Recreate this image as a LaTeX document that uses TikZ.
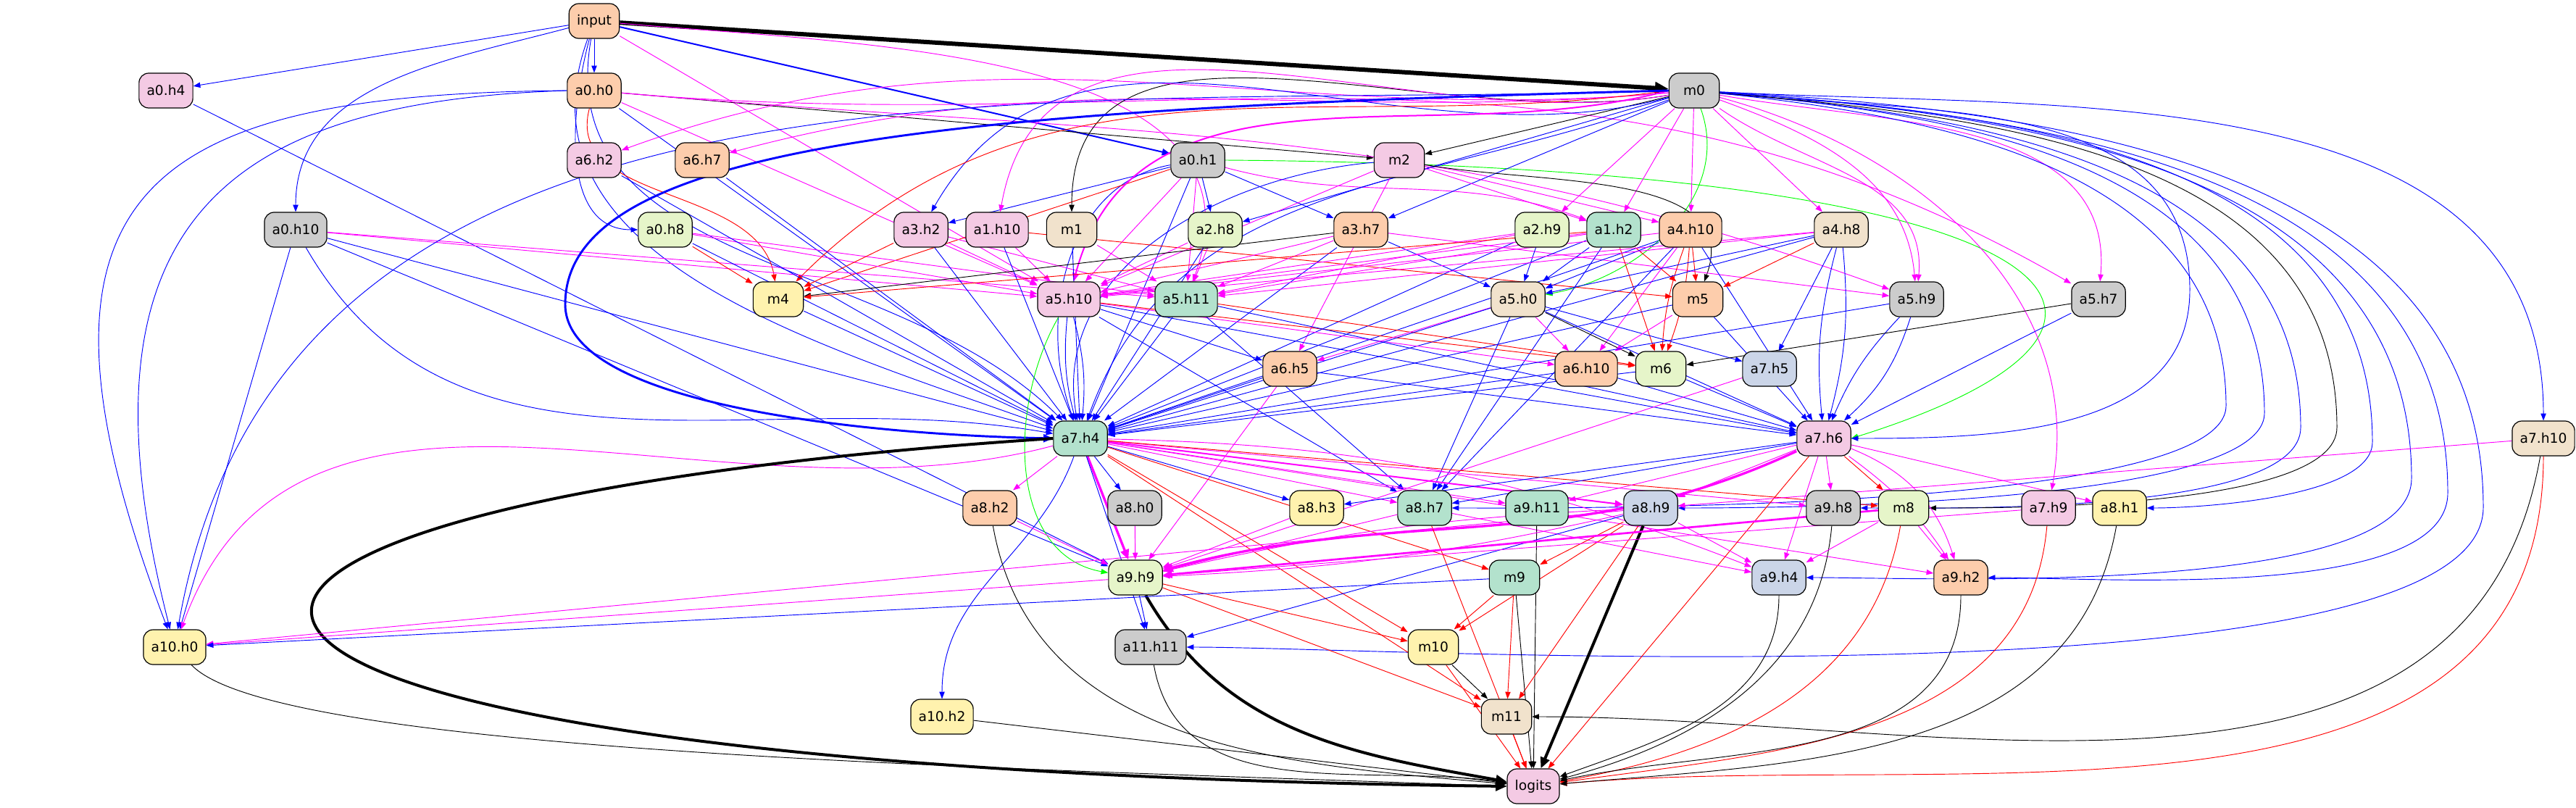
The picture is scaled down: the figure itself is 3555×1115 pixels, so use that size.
\documentclass[tikz,border=0pt]{standalone}
\usepackage{fontspec}
\setmainfont{DejaVu Sans}
\usepackage{tikz}
\usetikzlibrary{arrows.meta}
\usetikzlibrary{backgrounds}
\definecolor{pPeach}{HTML}{FDCDAC}
\definecolor{pPink}{HTML}{F4CAE4}
\definecolor{pGray}{HTML}{CCCCCC}
\definecolor{pMint}{HTML}{B3E2CD}
\definecolor{pLime}{HTML}{E6F5C9}
\definecolor{pLemon}{HTML}{FFF2AE}
\definecolor{pSand}{HTML}{F1E2CC}
\definecolor{pSteel}{HTML}{CBD5E8}
\definecolor{eBlue}{HTML}{0000FF}
\definecolor{eMag}{HTML}{FF00FF}
\definecolor{eRed}{HTML}{FF0000}
\definecolor{eGreen}{HTML}{00FF00}

\begin{document}
\begin{tikzpicture}[x=0.1875pt,y=-0.1875pt,
  hbox/.style={draw=black,line width=0.225pt,rounded corners=2.5pt,minimum height=9pt,minimum width=13pt,inner xsep=2pt,inner ysep=0pt,font=\fontsize{3.5}{4}\selectfont},
  peachn/.style={hbox,fill=pPeach}, pinkn/.style={hbox,fill=pPink},
  grayn/.style={hbox,fill=pGray}, mintn/.style={hbox,fill=pMint},
  limen/.style={hbox,fill=pLime}, lemonn/.style={hbox,fill=pLemon},
  sandn/.style={hbox,fill=pSand}, steeln/.style={hbox,fill=pSteel},
  lnk/.style={line width=0.175pt,-{Triangle[length=1.5pt 1.8,width=1.05pt 1.8]}},
  eb/.style={lnk,draw=eBlue}, em/.style={lnk,draw=eMag}, er/.style={lnk,draw=eRed},
  ek/.style={lnk,draw=black}, eg/.style={lnk,draw=eGreen}]
\useasboundingbox (0,0) rectangle (3555,1115);

\node[peachn] (input) at (820,29) {input};
\node[pinkn] (a0h4) at (229,125) {a0.h4};
\node[peachn] (a0h0) at (820,125) {a0.h0};
\node[grayn] (m0) at (2338,125) {m0};
\node[pinkn] (a6h2) at (820,221) {a6.h2};
\node[peachn] (a6h7) at (969,221) {a6.h7};
\node[grayn] (a0h1) at (1653,221) {a0.h1};
\node[pinkn] (m2) at (1931,221) {m2};
\node[grayn] (a0h10) at (408,317) {a0.h10};
\node[limen] (a0h8) at (918,317) {a0.h8};
\node[pinkn] (a3h2) at (1271,317) {a3.h2};
\node[pinkn] (a1h10) at (1376,317) {a1.h10};
\node[sandn] (m1) at (1479,317) {m1};
\node[limen] (a2h8) at (1677,317) {a2.h8};
\node[peachn] (a3h7) at (1878,317) {a3.h7};
\node[limen] (a2h9) at (2128,317) {a2.h9};
\node[mintn] (a1h2) at (2227,317) {a1.h2};
\node[peachn] (a4h10) at (2333,317) {a4.h10};
\node[sandn] (a4h8) at (2541,317) {a4.h8};
\node[lemonn] (m4) at (1074,413) {m4};
\node[pinkn] (a5h10) at (1475,413) {a5.h10};
\node[mintn] (a5h11) at (1637,413) {a5.h11};
\node[sandn] (a5h0) at (2095,413) {a5.h0};
\node[peachn] (m5) at (2343,413) {m5};
\node[grayn] (a5h9) at (2645,413) {a5.h9};
\node[grayn] (a5h7) at (2896,413) {a5.h7};
\node[peachn] (a6h5) at (1780,509) {a6.h5};
\node[peachn] (a6h10) at (2189,509) {a6.h10};
\node[limen] (m6) at (2292,509) {m6};
\node[steeln] (a7h5) at (2442,509) {a7.h5};
\node[mintn] (a7h4) at (1491,605) {a7.h4};
\node[pinkn] (a7h6) at (2517,605) {a7.h6};
\node[sandn] (a7h10) at (3510,605) {a7.h10};
\node[peachn] (a8h2) at (1366,701) {a8.h2};
\node[grayn] (a8h0) at (1566,701) {a8.h0};
\node[lemonn] (a8h3) at (1817,701) {a8.h3};
\node[mintn] (a8h7) at (1966,701) {a8.h7};
\node[mintn] (a9h11) at (2121,701) {a9.h11};
\node[steeln] (a8h9) at (2278,701) {a8.h9};
\node[grayn] (a9h8) at (2530,701) {a9.h8};
\node[limen] (m8) at (2627,701) {m8};
\node[pinkn] (a7h9) at (2827,701) {a7.h9};
\node[lemonn] (a8h1) at (2925,701) {a8.h1};
\node[limen] (a9h9) at (1567,797) {a9.h9};
\node[mintn] (m9) at (2090,797) {m9};
\node[steeln] (a9h4) at (2455,797) {a9.h4};
\node[peachn] (a9h2) at (2706,797) {a9.h2};
\node[lemonn] (a10h0) at (241,893) {a10.h0};
\node[grayn] (a11h11) at (1588,893) {a11.h11};
\node[lemonn] (m10) at (1978,893) {m10};
\node[lemonn] (a10h2) at (1300,989) {a10.h2};
\node[sandn] (m11) at (2079,989) {m11};
\node[pinkn] (logits) at (2116,1085) {logits};

\begin{scope}[on background layer]
% input
\draw[ek,line width=1.125pt] (input) -- (m0);
\draw[eb] (input) -- (a0h4);
\draw[eb] (input) -- (a0h0);
\draw[eb,line width=0.375pt] (input) -- (a0h1);
\draw[eb] (input) to[out=195,in=90] (a0h10);
\draw[eb] (input) to[out=-105,in=180] (a0h8);
\draw[eb] (input) to[out=-110,in=160] (a7h4);
\draw[eb] (input) to[out=-100,in=135] (a7h4);
\draw[em] (input) -- (a5h10);
\draw[em] (input) to[out=-5,in=70] (a5h11);
% layer 0
\draw[eb] (a0h4) -- (a9h9);
\draw[ek] (a0h0) -- (m2);
\draw[eb] (a0h0.west) .. controls (200,130) and (0,260) .. (a10h0);
\draw[eb] (a0h0.west) .. controls (320,140) and (90,300) .. (a10h0);
\draw[eb] (a0h0) -- (a7h4);
\draw[er] (a0h0) to[out=-105,in=100] (m4);
\draw[em] (a0h0) -- (a5h10);
\draw[em] (a0h0) to[out=-5,in=160] (a5h9);
\draw[em] (a0h0) to[out=-5,in=150] (a5h7);
\draw[eb] (a0h1) -- (a3h2);
\draw[eb] (a0h1) -- (a2h8);
\draw[eb] (a0h1) -- (a3h7);
\draw[eb] (a0h1) -- (a7h4);
\draw[eb] (a0h1) to[out=190,in=110] (a7h4);
\draw[em] (a0h1) to[out=-15,in=160] (a1h2);
\draw[em] (a0h1) -- (a5h10);
\draw[em] (a0h1) -- (a5h11);
\draw[er] (a0h1) -- (m4);
\draw[eg] (a0h1.east) .. controls (2900,230) and (3050,450) .. (a7h6.east);
\draw[eb] (a0h10) -- (a7h4);
\draw[eb] (a0h10) to[out=-60,in=170] (a7h4);
\draw[eb] (a0h10) -- (a10h0);
\draw[eb] (a0h10) -- (a9h9);
\draw[em] (a0h10) -- (a5h10);
\draw[em] (a0h10) -- (a5h11);
\draw[er] (a0h8) -- (m4);
\draw[em] (a0h8) -- (a5h10);
\draw[em] (a0h8) -- (a5h11);
\draw[eb] (a0h8) -- (a7h4);
% m0
\draw[ek] (m0) -- (m2);
\draw[ek] (m0) to[out=190,in=90] (m1);
\draw[em] (m0) to[out=185,in=20] (a6h2);
\draw[em] (m0) to[out=185,in=15] (a6h7);
\draw[eb] (m0) to[out=195,in=60] (a3h2);
\draw[em] (m0) to[out=190,in=80] (a1h10);
\draw[eb] (m0) -- (a2h8);
\draw[eb] (m0) -- (a3h7);
\draw[em] (m0) -- (a2h9);
\draw[em] (m0) -- (a1h2);
\draw[em] (m0) -- (a4h10);
\draw[em] (m0) -- (a4h8);
\draw[eg] (m0) to[out=-70,in=10] (a5h0);
\draw[em] (m0) to[out=-20,in=95] (a5h9);
\draw[em] (m0) to[out=-35,in=85] (a5h9);
\draw[em] (m0) to[out=-10,in=85] (a5h7);
\draw[em,line width=0.375pt] (m0.west) to[out=195,in=75] (a5h10);
\draw[er] (m0.west) to[out=188,in=45] (m4);
\draw[eb,line width=0.55pt] (m0.west) .. controls (1300,150) and (780,200) .. (780,420) .. controls (780,560) and (1200,600) .. (a7h4.west);
\draw[eb] (m0) to[out=200,in=70] (a7h4);
\draw[eb] (m0.west) to[out=182,in=80] (a10h0);
\draw[eb] (m0) to[out=-6,in=90] (3022,400) to[out=-90,in=0] (a7h6);
\draw[eb] (m0) to[out=-6,in=90] (3072,560) to[out=-90,in=0,looseness=0.35] (a8h7);
\draw[eb] (m0) to[out=-5,in=90] (3125,570) to[out=-90,in=0,looseness=0.4] (a8h9);
\draw[eb] (m0) to[out=-5,in=90] (3175,590) to[out=-90,in=0,looseness=0.5] (a9h8);
\draw[ek] (m0) to[out=-5,in=90] (3225,590) to[out=-90,in=0,looseness=0.5] (m8);
\draw[eb] (m0) to[out=-4,in=90] (3274,610) to[out=-90,in=0,looseness=0.6] (a8h1);
\draw[eb] (m0) to[out=-4,in=90] (3328,660) to[out=-90,in=0,looseness=0.5] (a9h4);
\draw[eb] (m0) to[out=-4,in=90] (3378,680) to[out=-90,in=0,looseness=0.6] (a9h2);
\draw[eb] (m0) to[out=-3,in=90] (3427,700) to[out=-90,in=0,looseness=0.4] (a11h11);
\draw[eb] (m0) to[out=-3,in=90] (a7h10);
\draw[em] (m0) to[out=-15,in=80] (a7h9);
% layer 1-3
\draw[eb] (a6h2) -- (a7h4);
\draw[eb] (a6h7) -- (a7h4);
\draw[ek] (m2) to[out=-10,in=70] (m5);
\draw[em] (m2) -- (a1h2);
\draw[em] (m2) -- (a4h10);
\draw[eb] (m2) to[out=185,in=100] (a7h4);
\draw[em] (m2) -- (a5h10);
\draw[em] (m2) -- (a6h5);
\draw[em] (a3h2) -- (a5h10);
\draw[em] (a3h2) -- (a5h11);
\draw[er] (a3h2) -- (m4);
\draw[eb] (a3h2) -- (a7h4);
\draw[em] (a1h10) -- (a5h10);
\draw[eb] (a1h10) -- (a7h4);
\draw[er] (a1h10) -- (m5);
\draw[em] (m1) -- (a5h11);
\draw[eb] (m1) -- (a7h4);
\draw[em] (a2h8) -- (a5h10);
\draw[em] (a2h8) -- (a5h11);
\draw[eb] (a2h8) -- (a7h4);
\draw[ek] (a3h7) -- (m4);
\draw[eb] (a3h7) -- (a5h0);
\draw[em] (a3h7) -- (a5h10);
\draw[em] (a3h7) -- (a5h11);
\draw[eb] (a3h7) -- (a7h4);
\draw[em] (a3h7) -- (a5h9);
\draw[eb] (a2h9) -- (a5h0);
\draw[em] (a2h9) -- (a5h10);
\draw[em] (a2h9) -- (a5h11);
\draw[eb] (a2h9) -- (a7h4);
\draw[eb] (a1h2) -- (a5h0);
\draw[er] (a1h2) -- (m5);
\draw[er] (a1h2) -- (m6);
\draw[er] (a1h2) -- (m4);
\draw[em] (a1h2) -- (a5h10);
\draw[em] (a1h2) -- (a5h11);
\draw[eb] (a1h2) -- (a8h7);
\draw[eb] (a1h2) -- (a7h4);
\draw[er] (a4h10) -- (m5);
\draw[er] (a4h10) to[bend right=8] (m6);
\draw[er] (a4h10) to[bend left=8] (m6);
\draw[eb] (a4h10) -- (a5h0);
\draw[em] (a4h10) -- (a6h10);
\draw[em] (a4h10) -- (a5h10);
\draw[eb] (a4h10) -- (a7h4);
\draw[eb] (a4h10) -- (a7h6);
\draw[eb] (a4h10) -- (a8h7);
\draw[er] (a4h8) -- (m5);
\draw[eb] (a4h8) -- (a5h0);
\draw[eb] (a4h8) -- (a7h5);
\draw[eb] (a4h8) to[bend right=10] (a7h6);
\draw[eb] (a4h8) to[bend left=10] (a7h6);
\draw[em] (a4h8) -- (a5h10);
\draw[em] (a4h8) -- (a5h11);
\draw[eb] (a4h8) -- (a7h4);
% layer 4-5
\draw[eb] (m4) -- (a7h4);
\draw[eb] (a5h10) -- (a6h5);
\draw[em] (a5h10) -- (a6h10);
\draw[er] (a5h10) -- (m6);
\draw[eb] (a5h10) to[bend right=10] (a7h4);
\draw[eb] (a5h10) to[bend left=10] (a7h4);
\draw[eb] (a5h10) -- (a7h6);
\draw[eb] (a5h10) -- (a8h7);
\draw[eg] (a5h10) to[out=-120,in=170] (a9h9);
\draw[eb] (a5h11) -- (a7h4);
\draw[eb] (a5h11) -- (a7h6);
\draw[er] (a5h11) -- (m6);
\draw[eb] (a5h11) -- (a8h7);
\draw[em] (a5h0) -- (a6h10);
\draw[ek] (a5h0) -- (m6);
\draw[eb] (a5h0) -- (a7h5);
\draw[em] (a5h0) -- (a6h5);
\draw[eb] (a5h0) -- (a7h4);
\draw[eb] (a5h0) -- (a7h6);
\draw[eb] (a5h0) -- (a8h7);
\draw[em] (m5) -- (a6h10);
\draw[eb] (m5) -- (a7h6);
\draw[eb] (m5) -- (a7h4);
\draw[eb] (a5h9) to[bend right=10] (a7h6);
\draw[eb] (a5h9) to[bend left=15] (a7h6);
\draw[eb] (a5h9) -- (a7h4);
\draw[ek] (a5h7) -- (m6);
\draw[eb] (a5h7) -- (a7h6);
\draw[eb] (a6h5) -- (a7h4);
\draw[em] (a6h5) -- (a9h9);
\draw[eb] (a6h5) -- (a7h6);
\draw[eb] (a6h10) -- (a7h4);
\draw[eb] (a6h10) -- (a7h6);
\draw[eb] (m6) -- (a7h4);
\draw[eb] (m6) -- (a7h6);
\draw[em] (a7h5) -- (a9h9);
% layer 7
\draw[em] (a7h4) -- (a8h2);
\draw[eb] (a7h4) -- (a8h0);
\draw[eb] (a7h4) -- (a8h3);
\draw[em] (a7h4) -- (a8h7);
\draw[em] (a7h4) -- (a9h11);
\draw[em,line width=0.375pt] (a7h4) -- (a8h9);
\draw[em] (a7h4) -- (a9h8);
\draw[er] (a7h4) -- (m8);
\draw[em,line width=0.625pt] (a7h4) -- (a9h9);
\draw[er] (a7h4) -- (m9);
\draw[em] (a7h4) to[bend left=10] (a9h4);
\draw[em] (a7h4) -- (a9h2);
\draw[em] (a7h4) to[out=195,in=70] (a10h0);
\draw[eb] (a7h4) -- (a11h11);
\draw[eb] (a7h4) to[out=-110,in=90] (a10h2);
\draw[er] (a7h4) -- (m10);
\draw[er] (a7h4) -- (m11);
\draw[ek,line width=0.75pt] (a7h4.west) .. controls (0,700) and (0,1060) .. (logits.west);
\draw[eb] (a7h6) -- (a8h3);
\draw[eb] (a7h6) -- (a8h7);
\draw[em] (a7h6) -- (a9h11);
\draw[em] (a7h6) -- (a8h9);
\draw[em] (a7h6) -- (a9h8);
\draw[er] (a7h6) -- (m8);
\draw[em] (a7h6) -- (a8h1);
\draw[em,line width=0.625pt] (a7h6) to[out=205,in=15] (a9h9);
\draw[em] (a7h6) -- (a9h4);
\draw[em] (a7h6) to[bend left=10] (a9h2);
\draw[em] (a7h6) to[bend left=25] (a9h2);
\draw[er] (a7h6) -- (logits);
\draw[em] (a7h10) -- (a8h9);
\draw[ek] (a7h10) to[out=-100,in=0] (m11);
\draw[er] (a7h10) to[out=-90,in=5] (logits);
% layer 8-9
\draw[em] (a8h2) -- (a9h9);
\draw[ek] (a8h2) to[out=-80,in=175] (logits);
\draw[em] (a8h0) -- (a9h9);
\draw[em] (a8h3) -- (a9h9);
\draw[em] (a8h7) -- (a9h9);
\draw[em] (a8h7) -- (a9h4);
\draw[er] (a8h7) -- (logits);
\draw[ek] (a9h11) -- (logits);
\draw[em] (a8h9) to[bend left=5] (a9h9);
\draw[em] (a8h9) to[bend right=5] (a9h9);
\draw[er] (a8h9) -- (m9);
\draw[er] (a8h9) -- (m10);
\draw[er] (a8h9) -- (m11);
\draw[eb] (a8h9) -- (a11h11);
\draw[em] (a8h9) -- (a9h4);
\draw[em] (a8h9) -- (a10h0);
\draw[ek,line width=0.75pt] (a8h9) -- (logits);
\draw[ek] (a9h8) to[out=-95,in=15] (logits);
\draw[em,line width=0.5pt] (m8) -- (a9h9);
\draw[em] (m8) -- (a9h4);
\draw[em] (m8) -- (a9h2);
\draw[er] (m8) to[out=-100,in=10] (logits);
\draw[em] (a7h9) -- (a9h9);
\draw[er] (a7h9) to[out=-95,in=8] (logits);
\draw[ek] (a8h1) to[out=-100,in=5] (logits);
\draw[em] (a9h9) -- (a10h0);
\draw[eb] (a9h9) -- (a11h11);
\draw[er] (a9h9) -- (m10);
\draw[er] (a9h9) -- (m11);
\draw[ek,line width=0.75pt] (a9h9) to[out=-60,in=170] (logits);
\draw[eb] (m9) -- (a10h0);
\draw[er] (m9) -- (m10);
\draw[er] (m9) -- (m11);
\draw[ek] (m9) -- (logits);
\draw[ek] (a9h4) to[out=-90,in=20] (logits);
\draw[ek] (a9h2) to[out=-90,in=12] (logits);
\draw[ek] (a10h0) .. controls (380,1040) and (1400,1060) .. (logits.west);
\draw[ek] (a11h11) to[out=-80,in=172] (logits);
\draw[ek] (a10h2) -- (logits);
\draw[ek] (m10) -- (m11);
\draw[er] (m10) -- (logits);
\draw[er] (m11) -- (logits);
\end{scope}
\end{tikzpicture}
\end{document}
